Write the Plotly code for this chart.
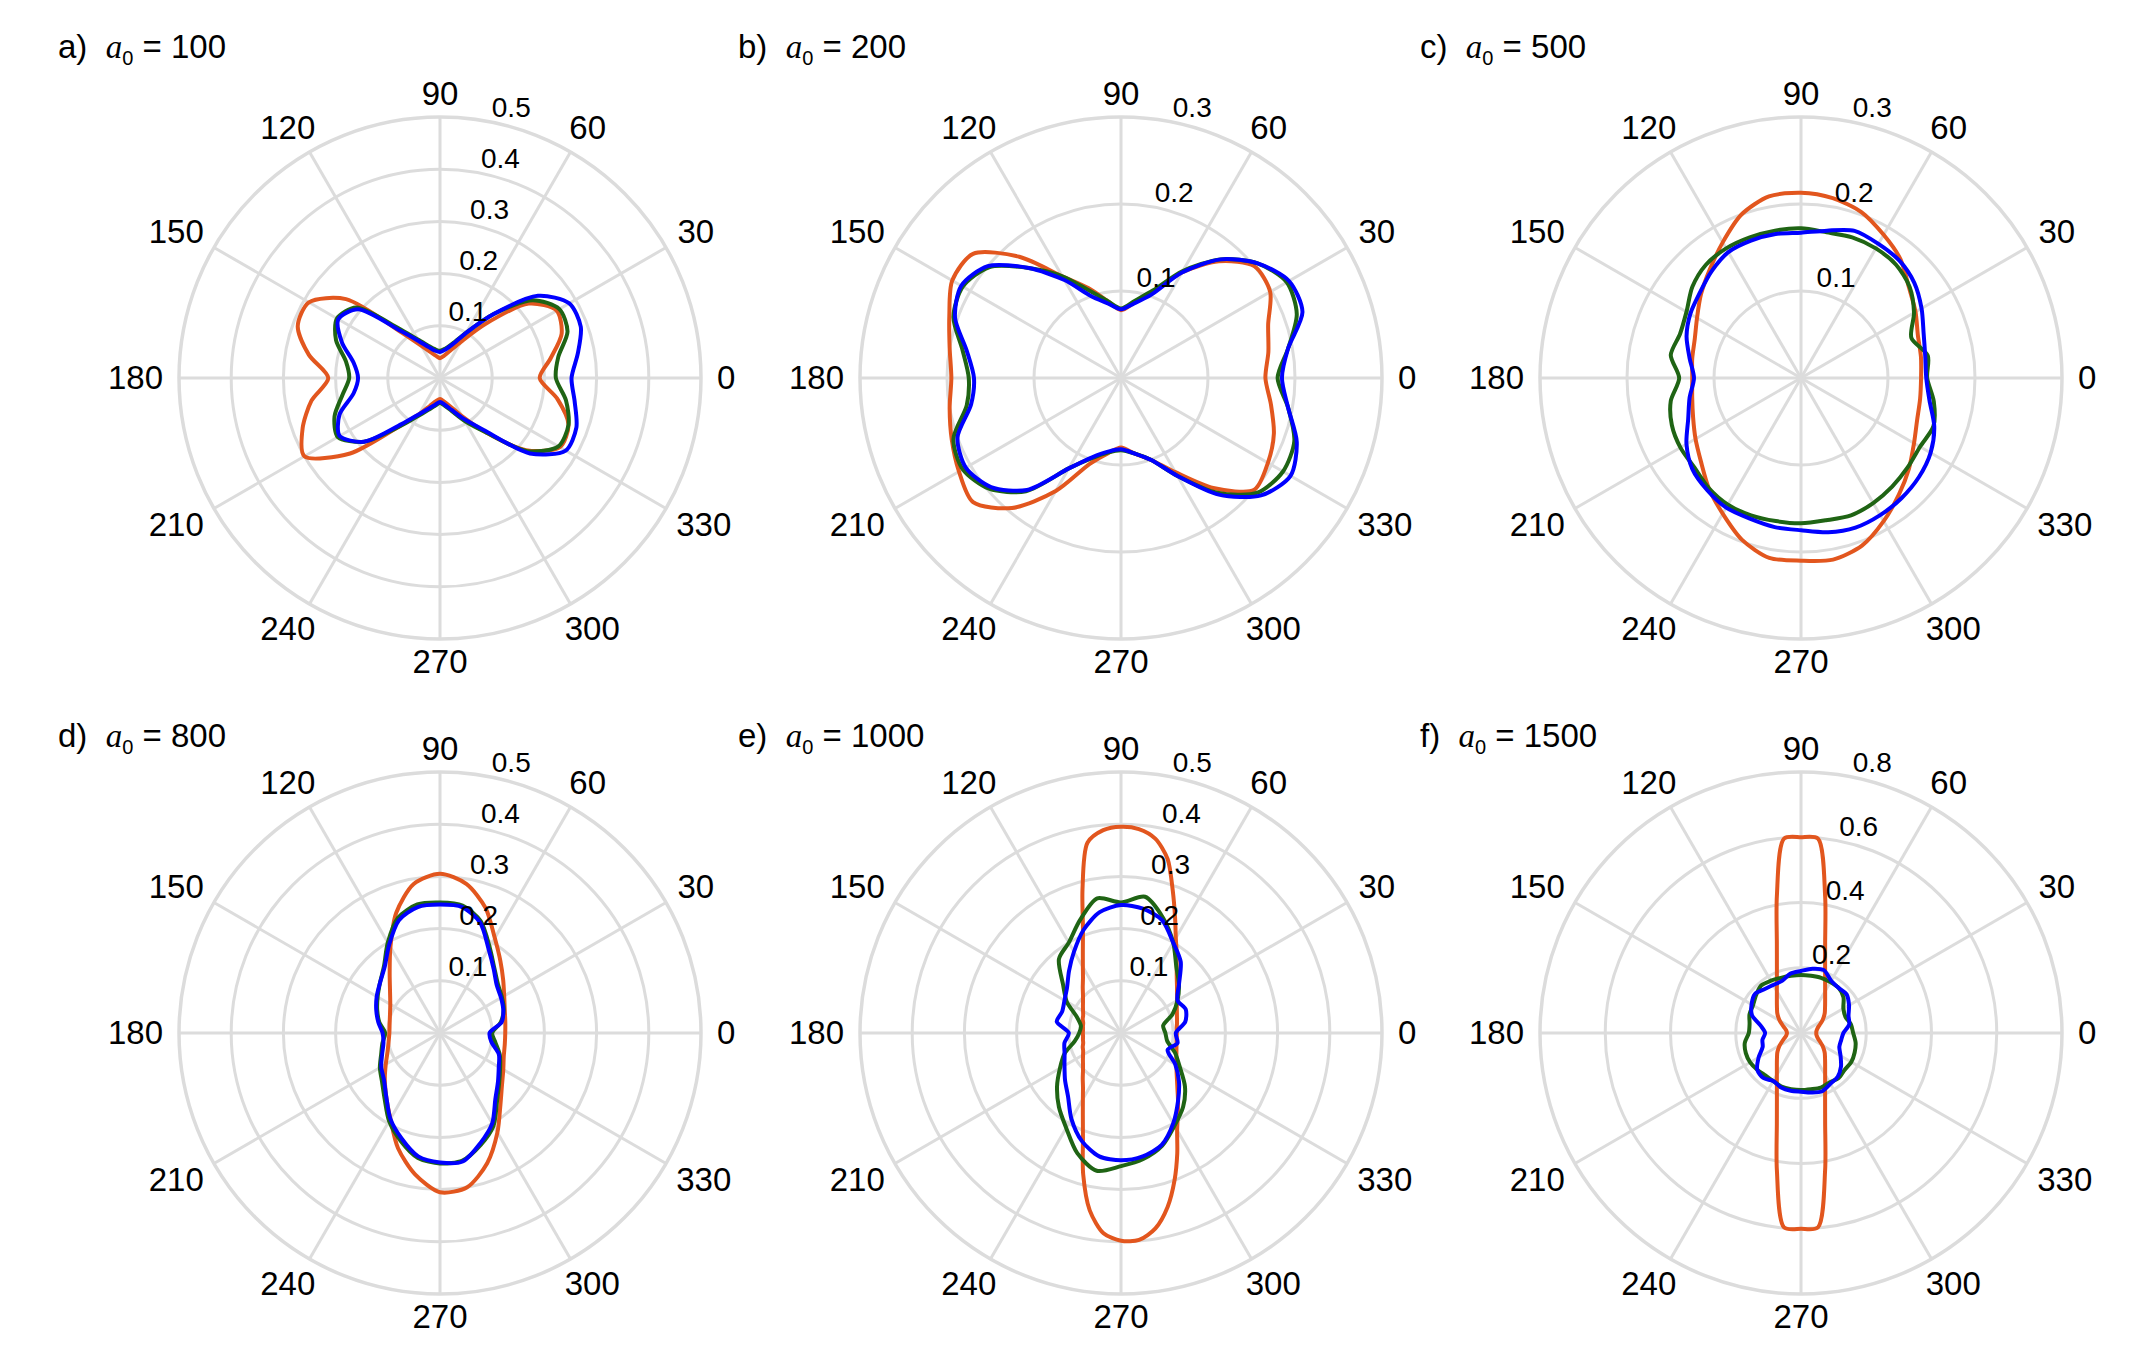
import math
import plotly.graph_objects as go

# ---------------- data ----------------
THETA10 = list(range(0, 360, 10))
THETA5 = list(range(0, 360, 5))

PANEL_LETTERS = ["a", "b", "c", "d", "e", "f"]
A0_VALUES = [100, 200, 500, 800, 1000, 1500]
R_MAX = [0.5, 0.3, 0.3, 0.5, 0.5, 0.8]
R_TICKS = [
    [0.1, 0.2, 0.3, 0.4, 0.5],
    [0.1, 0.2, 0.3],
    [0.1, 0.2, 0.3],
    [0.1, 0.2, 0.3, 0.4, 0.5],
    [0.1, 0.2, 0.3, 0.4, 0.5],
    [0.2, 0.4, 0.6, 0.8],
]
R_TICK_TEXT = [
    ["0.1", "0.2", "0.3", "0.4", "0.5"],
    ["0.1", "0.2", "0.3"],
    ["0.1", "0.2", "0.3"],
    ["0.1", "0.2", "0.3", "0.4", "0.5"],
    ["0.1", "0.2", "0.3", "0.4", "0.5"],
    ["0.2", "0.4", "0.6", "0.8"],
]
ANGLE_TICKS = [0, 30, 60, 90, 120, 150, 180, 210, 240, 270, 300, 330]
ANGLE_TEXT = ["0", "30", "60", "90", "120", "150", "180", "210", "240", "270", "300", "330"]

# panel a (a0 = 100), theta every 10 deg
A_ORANGE = [0.191, 0.215, 0.248, 0.258, 0.222, 0.135, 0.08, 0.055, 0.043, 0.038, 0.043, 0.053,
            0.071, 0.113, 0.235, 0.29, 0.29, 0.255, 0.214, 0.25, 0.28, 0.3, 0.225, 0.12,
            0.08, 0.057, 0.045, 0.04, 0.046, 0.058, 0.085, 0.135, 0.215, 0.265, 0.262, 0.228]
A_GREEN = [0.222, 0.23, 0.26, 0.264, 0.232, 0.16, 0.1, 0.07, 0.057, 0.052, 0.056, 0.066,
           0.085, 0.125, 0.21, 0.228, 0.212, 0.183, 0.174, 0.19, 0.215, 0.226, 0.19, 0.122,
           0.084, 0.065, 0.054, 0.048, 0.054, 0.068, 0.095, 0.135, 0.218, 0.262, 0.262, 0.245]
A_BLUE = [0.252, 0.268, 0.287, 0.286, 0.245, 0.16, 0.1, 0.068, 0.055, 0.05, 0.053, 0.063,
          0.082, 0.118, 0.205, 0.225, 0.2, 0.168, 0.157, 0.168, 0.205, 0.222, 0.19, 0.116,
          0.08, 0.062, 0.052, 0.046, 0.052, 0.065, 0.09, 0.13, 0.225, 0.278, 0.278, 0.262]

# panel b (a0 = 200)
B_ORANGE = [0.166, 0.172, 0.18, 0.198, 0.2, 0.175, 0.14, 0.105, 0.088, 0.078, 0.09, 0.11,
            0.135, 0.182, 0.222, 0.224, 0.21, 0.2, 0.195, 0.2, 0.207, 0.215, 0.222, 0.195,
            0.15, 0.105, 0.088, 0.08, 0.088, 0.1, 0.125, 0.165, 0.2, 0.195, 0.187, 0.175]
B_GREEN = [0.18, 0.195, 0.215, 0.22, 0.205, 0.178, 0.142, 0.107, 0.09, 0.08, 0.09, 0.107,
           0.135, 0.165, 0.198, 0.21, 0.205, 0.185, 0.175, 0.18, 0.205, 0.21, 0.198, 0.17,
           0.12, 0.098, 0.087, 0.083, 0.088, 0.1, 0.13, 0.172, 0.205, 0.215, 0.212, 0.195]
B_BLUE = [0.185, 0.195, 0.222, 0.223, 0.205, 0.178, 0.14, 0.102, 0.087, 0.079, 0.087, 0.1,
          0.13, 0.165, 0.2, 0.212, 0.203, 0.18, 0.169, 0.175, 0.2, 0.206, 0.195, 0.168,
          0.12, 0.097, 0.086, 0.082, 0.088, 0.1, 0.13, 0.175, 0.21, 0.225, 0.215, 0.195]

# panel c (a0 = 500)
C_ORANGE = [0.138, 0.14, 0.143, 0.152, 0.162, 0.178, 0.19, 0.203, 0.21, 0.213, 0.212, 0.2,
            0.18, 0.163, 0.15, 0.138, 0.13, 0.127, 0.125, 0.127, 0.132, 0.14, 0.15, 0.165,
            0.18, 0.198, 0.21, 0.21, 0.212, 0.205, 0.19, 0.175, 0.162, 0.15, 0.142, 0.139]
C_GREEN = [0.145, 0.148, 0.135, 0.15, 0.163, 0.17, 0.172, 0.172, 0.17, 0.172, 0.172, 0.172,
           0.172, 0.17, 0.163, 0.152, 0.148, 0.152, 0.14, 0.152, 0.158, 0.16, 0.16, 0.165,
           0.168, 0.168, 0.167, 0.167, 0.166, 0.168, 0.166, 0.163, 0.16, 0.158, 0.162, 0.155]
C_BLUE = [0.144, 0.145, 0.15, 0.16, 0.17, 0.176, 0.178, 0.18, 0.172, 0.167, 0.168, 0.168,
          0.167, 0.16, 0.152, 0.147, 0.14, 0.13, 0.123, 0.13, 0.138, 0.152, 0.163, 0.168,
          0.172, 0.172, 0.174, 0.175, 0.18, 0.183, 0.182, 0.18, 0.177, 0.172, 0.163, 0.15]

# panel d (a0 = 800)
D_ORANGE = [0.125, 0.127, 0.132, 0.142, 0.158, 0.18, 0.21, 0.255, 0.29, 0.305, 0.29, 0.245,
            0.19, 0.15, 0.125, 0.11, 0.102, 0.098, 0.097, 0.1, 0.107, 0.12, 0.138, 0.16,
            0.19, 0.235, 0.275, 0.305, 0.3, 0.265, 0.22, 0.18, 0.155, 0.14, 0.13, 0.126]
D_GREEN = [0.1, 0.118, 0.13, 0.137, 0.145, 0.162, 0.19, 0.228, 0.248, 0.25, 0.25, 0.235,
           0.2, 0.167, 0.15, 0.138, 0.128, 0.118, 0.105, 0.112, 0.12, 0.133, 0.145, 0.165,
           0.195, 0.22, 0.243, 0.25, 0.248, 0.228, 0.205, 0.17, 0.148, 0.133, 0.122, 0.108]
D_BLUE = [0.095, 0.12, 0.129, 0.135, 0.142, 0.16, 0.186, 0.225, 0.245, 0.246, 0.245, 0.23,
          0.195, 0.165, 0.15, 0.14, 0.13, 0.12, 0.11, 0.11, 0.118, 0.13, 0.14, 0.16,
          0.19, 0.215, 0.24, 0.248, 0.25, 0.225, 0.2, 0.165, 0.145, 0.13, 0.12, 0.1]

# panel e (a0 = 1000); orange every 5 deg
E_ORANGE = [0.107, 0.107, 0.109, 0.111, 0.114, 0.118, 0.124, 0.131, 0.14, 0.151, 0.166, 0.186,
            0.21, 0.245, 0.29, 0.345, 0.378, 0.392, 0.395, 0.39, 0.37, 0.285, 0.213, 0.173,
            0.146, 0.127, 0.114, 0.103, 0.095, 0.089, 0.084, 0.08, 0.078, 0.075, 0.074, 0.073,
            0.073, 0.073, 0.074, 0.075, 0.078, 0.08, 0.084, 0.089, 0.095, 0.103, 0.114, 0.127,
            0.146, 0.173, 0.213, 0.28, 0.345, 0.385, 0.398, 0.398, 0.38, 0.345, 0.3, 0.255,
            0.215, 0.19, 0.17, 0.153, 0.14, 0.13, 0.123, 0.117, 0.113, 0.11, 0.108, 0.107]
E_GREEN = [0.085, 0.082, 0.105, 0.125, 0.145, 0.165, 0.2, 0.235, 0.265, 0.25, 0.262, 0.23,
           0.2, 0.185, 0.145, 0.12, 0.09, 0.078, 0.08, 0.09, 0.115, 0.135, 0.16, 0.185,
           0.21, 0.245, 0.268, 0.255, 0.245, 0.23, 0.205, 0.185, 0.16, 0.13, 0.11, 0.09]
E_BLUE = [0.105, 0.125, 0.132, 0.125, 0.145, 0.178, 0.2, 0.23, 0.242, 0.245, 0.235, 0.21,
          0.18, 0.155, 0.135, 0.125, 0.12, 0.125, 0.1, 0.11, 0.115, 0.125, 0.14, 0.158,
          0.19, 0.22, 0.24, 0.244, 0.24, 0.228, 0.2, 0.17, 0.145, 0.12, 0.095, 0.11]

# panel f (a0 = 1500); orange every 5 deg
F_ORANGE = [0.047, 0.047, 0.049, 0.052, 0.057, 0.065, 0.075, 0.085, 0.095, 0.104, 0.115, 0.129,
            0.148, 0.175, 0.216, 0.286, 0.426, 0.598, 0.6, 0.598, 0.426, 0.286, 0.216, 0.175,
            0.148, 0.129, 0.115, 0.104, 0.095, 0.085, 0.075, 0.065, 0.057, 0.05, 0.046, 0.044,
            0.043, 0.044, 0.046, 0.05, 0.057, 0.065, 0.075, 0.085, 0.095, 0.104, 0.115, 0.129,
            0.148, 0.175, 0.216, 0.286, 0.426, 0.598, 0.6, 0.598, 0.426, 0.286, 0.216, 0.175,
            0.148, 0.129, 0.115, 0.104, 0.095, 0.085, 0.075, 0.065, 0.057, 0.052, 0.049, 0.047]
F_GREEN = [0.16, 0.155, 0.145, 0.15, 0.17, 0.18, 0.18, 0.18, 0.178, 0.178, 0.178, 0.18,
           0.185, 0.19, 0.18, 0.17, 0.168, 0.16, 0.16, 0.175, 0.18, 0.18, 0.175, 0.17,
           0.17, 0.175, 0.175, 0.175, 0.175, 0.178, 0.175, 0.18, 0.175, 0.178, 0.175, 0.17]
F_BLUE = [0.13, 0.15, 0.155, 0.17, 0.183, 0.18, 0.185, 0.205, 0.2, 0.19, 0.185, 0.17,
          0.17, 0.175, 0.185, 0.175, 0.16, 0.125, 0.11, 0.12, 0.125, 0.15, 0.175, 0.18,
          0.17, 0.178, 0.18, 0.18, 0.185, 0.19, 0.18, 0.175, 0.16, 0.14, 0.125, 0.125]

SERIES = [
    [(A_ORANGE, THETA10), (A_GREEN, THETA10), (A_BLUE, THETA10)],
    [(B_ORANGE, THETA10), (B_GREEN, THETA10), (B_BLUE, THETA10)],
    [(C_ORANGE, THETA10), (C_GREEN, THETA10), (C_BLUE, THETA10)],
    [(D_ORANGE, THETA10), (D_GREEN, THETA10), (D_BLUE, THETA10)],
    [(E_ORANGE, THETA5), (E_GREEN, THETA10), (E_BLUE, THETA10)],
    [(F_ORANGE, THETA5), (F_GREEN, THETA10), (F_BLUE, THETA10)],
]
SERIES_NAMES = ["orange", "green", "blue"]

# ---------------- style / layout ----------------
COLORS = ["#E2561E", "#1F6414", "#0000FF"]
GRID = "#DCDCDC"
FONT = "Liberation Sans, Arial, Helvetica, sans-serif"
W, H = 2134, 1363
COL_CX = [440, 1121, 1801]
ROW_CY = [378, 1033]
R_PX = 261             # radius of the polar circle
R_OVER_PX = 320        # overlay polar radius (same px-per-unit scale) carrying labels
ANG_FONT = 33
RAD_FONT = 28
ANG_ANCHOR_PX = 277    # anchor radius of the angular labels
ANG_VPAD_PX = 7        # vertical push of angular labels (scaled by sin)
ANG_DIAG_UP_PX = 4     # extra push for the slanted labels (upper half)
ANG_DIAG_DN_PX = 6     # extra push for the slanted labels (lower half)
RAD_AXIS_ANGLE = 78    # direction along which the radial labels run
RAD_OFF_PX = (17, 15)  # label centre offset from the ring point (right, up)
TEXT_BIAS_PX = 2.5     # plotly draws centred text slightly high
TITLE_X = [56, 736, 1418]
TITLE_Y = [49, 737]


def px_to_polar(dx, dy, scale):
    """px offset from the centre (y up) -> (r, theta) on the overlay axes"""
    return math.hypot(dx, dy) * scale, math.degrees(math.atan2(dy, dx))


fig = go.Figure()
layout_polars = {}
annotations = []

for i in range(6):
    col, row = i % 3, i // 3
    cx, cy = COL_CX[col], ROW_CY[row]
    pid = "polar" if i == 0 else f"polar{i + 1}"
    oid = f"polar{i + 7}"
    rmax = R_MAX[i]
    scale = rmax / R_PX

    for (vals, th), name, color in zip(SERIES[i], SERIES_NAMES, COLORS):
        fig.add_trace(go.Scatterpolar(
            r=list(vals) + [vals[0]],
            theta=list(th) + [360],
            mode="lines",
            line=dict(color=color, width=4, shape="spline", smoothing=0.8),
            subplot=pid, showlegend=False, name=name,
            hoverinfo="skip",
        ))

    dom = dict(x=[(cx - R_PX) / W, (cx + R_PX) / W],
               y=[(H - cy - R_PX) / H, (H - cy + R_PX) / H])
    layout_polars[pid] = dict(
        domain=dom,
        bgcolor="white",
        radialaxis=dict(
            range=[0, rmax], tickmode="array", tickvals=R_TICKS[i],
            showticklabels=False, ticks="", showline=False,
            gridcolor=GRID, gridwidth=3, angle=80,
        ),
        angularaxis=dict(
            tickmode="array", tickvals=ANGLE_TICKS,
            direction="counterclockwise", rotation=0,
            gridcolor=GRID, gridwidth=3,
            showline=True, linecolor=GRID, linewidth=3.5,
            ticks="", showticklabels=False,
        ),
    )

    # overlay polar: same centre and scale, used only for the tick label texts
    dom2 = dict(x=[(cx - R_OVER_PX) / W, (cx + R_OVER_PX) / W],
                y=[(H - cy - R_OVER_PX) / H, (H - cy + R_OVER_PX) / H])
    layout_polars[oid] = dict(
        domain=dom2,
        bgcolor="rgba(0,0,0,0)",
        radialaxis=dict(range=[0, R_OVER_PX * scale], visible=False),
        angularaxis=dict(visible=False, direction="counterclockwise", rotation=0),
    )

    # angular tick labels (text box pushed outwards by half its size)
    ar, at = [], []
    for ang, txt in zip(ANGLE_TICKS, ANGLE_TEXT):
        c, s = math.cos(math.radians(ang)), math.sin(math.radians(ang))
        half_w = 0.5 * len(txt) * 0.556 * ANG_FONT
        diag = abs(math.sin(math.radians(2 * ang)))
        extra = ANG_DIAG_UP_PX if s > 0 else -ANG_DIAG_DN_PX
        dx = ANG_ANCHOR_PX * c + half_w * c
        dy = ANG_ANCHOR_PX * s + ANG_VPAD_PX * s + extra * diag - TEXT_BIAS_PX
        r_, t_ = px_to_polar(dx, dy, scale)
        ar.append(r_)
        at.append(t_)
    fig.add_trace(go.Scatterpolar(
        r=ar, theta=at, text=ANGLE_TEXT, mode="text",
        textposition="middle center",
        textfont=dict(size=ANG_FONT, color="black", family=FONT),
        subplot=oid, showlegend=False, hoverinfo="skip", cliponaxis=False,
    ))

    # radial tick labels
    rr, rt = [], []
    ca, sa = math.cos(math.radians(RAD_AXIS_ANGLE)), math.sin(math.radians(RAD_AXIS_ANGLE))
    for v in R_TICKS[i]:
        ring_px = v / scale
        dx = ring_px * ca + RAD_OFF_PX[0]
        dy = ring_px * sa + RAD_OFF_PX[1] - TEXT_BIAS_PX
        r_, t_ = px_to_polar(dx, dy, scale)
        rr.append(r_)
        rt.append(t_)
    fig.add_trace(go.Scatterpolar(
        r=rr, theta=rt, text=R_TICK_TEXT[i], mode="text",
        textposition="middle center",
        textfont=dict(size=RAD_FONT, color="black", family=FONT),
        subplot=oid, showlegend=False, hoverinfo="skip", cliponaxis=False,
    ))

    annotations.append(dict(
        x=TITLE_X[col] / W, y=1 - TITLE_Y[row] / H, xref="paper", yref="paper",
        xanchor="left", yanchor="middle", showarrow=False,
        text=(f"{PANEL_LETTERS[i]})&nbsp;&nbsp;<span style='font-family:Liberation Serif'>"
              f"<i>a</i></span><sub><span style='font-size:20px'>0</span></sub>"
              f" = {A0_VALUES[i]}"),
        font=dict(size=33, color="black", family=FONT),
    ))

fig.update_layout(
    width=W, height=H,
    margin=dict(l=0, r=0, t=0, b=0),
    paper_bgcolor="white",
    showlegend=False,
    annotations=annotations,
    **layout_polars,
)

fig.write_html("out.html")
